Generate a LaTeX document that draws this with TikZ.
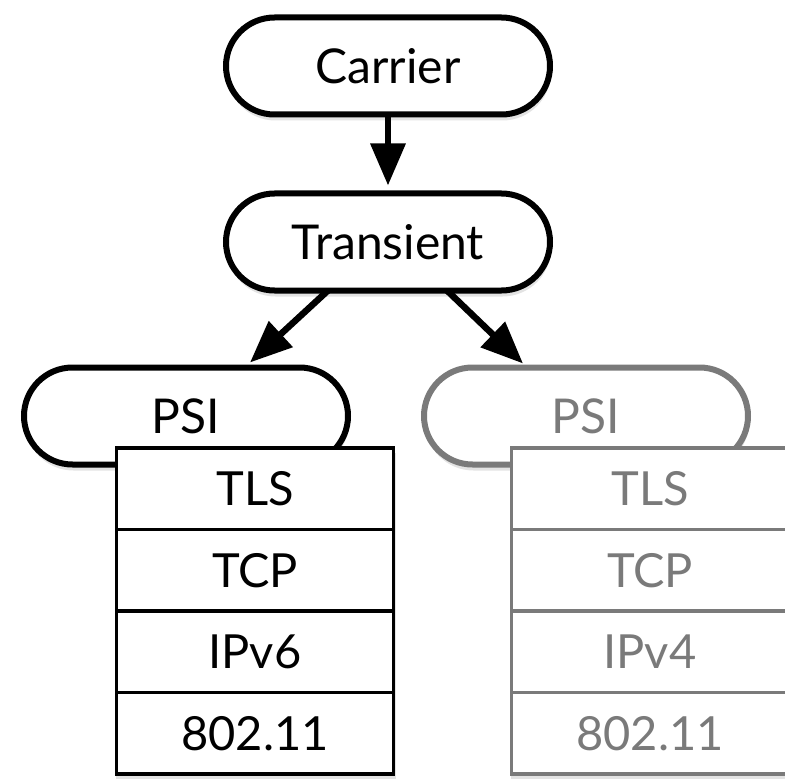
\documentclass[tikz,border=0pt]{standalone}
\usepackage{fontspec}
\setmainfont{Lato}
\usetikzlibrary{shapes.misc,shadows,arrows.meta,calc}
\definecolor{dimgray}{RGB}{122,122,122}
\tikzset{
  pill/.style={rounded rectangle, draw=black, line width=6pt, fill=white,
    minimum width=324pt, minimum height=97pt, inner sep=0pt, outer sep=0pt,
    font=\fontsize{48}{48}\selectfont,
    drop shadow={opacity=0.22, shadow xshift=1pt, shadow yshift=-6pt}},
  stackbg/.style={rectangle, fill=white, minimum width=280pt, minimum height=326pt,
    inner sep=0pt, outer sep=0pt,
    drop shadow={opacity=0.22, shadow xshift=1pt, shadow yshift=-6pt}},
  layer/.style={rectangle, draw=black, line width=3.5pt, fill=white,
    minimum width=277pt, minimum height=81.5pt, inner sep=0pt, outer sep=0pt,
    font=\fontsize{47}{47}\selectfont},
  dim/.style={draw=dimgray, text=dimgray},
  conn/.style={line width=6.5pt, -{Triangle[length=42pt,width=34pt]}}
}
\begin{document}
\begin{tikzpicture}[x=1pt,y=-1pt]
\useasboundingbox (0,0) rectangle (785,781);
\node[pill] (C) at (388,66) {Carrier};
\node[pill] (T) at (388,242) {Transient};
\node[pill] (P1) at (186,416) {PSI};
\node[pill,dim] (P2) at (586,416) {PSI};
% left stack
\node[stackbg] (S1) at (255,610) {};
\node[layer] (L1a) at (255,488.75) {TLS};
\node[layer] (L1b) at (255,570.25) {TCP};
\node[layer] (L1c) at (255,651.75) {IPv6};
\node[layer] (L1d) at (255,733.25) {802.11};
% right stack
\node[stackbg] (S2) at (650,610) {};
\node[layer,dim] (L2a) at (650,488.75) {TLS};
\node[layer,dim] (L2b) at (650,570.25) {TCP};
\node[layer,dim] (L2c) at (650,651.75) {IPv4};
\node[layer,dim] (L2d) at (650,733.25) {802.11};
% connectors
\draw[conn] (C.south) -- ($(T.north)+(0,-8)$);
\coordinate (t1) at ($(T.south)+(-60,0)$);
\coordinate (t2) at ($(T.south)+(59,0)$);
\coordinate (h1) at ($(P1.north)+(64,-5)$);
\coordinate (h2) at ($(P2.north)+(-63,-4)$);
\draw[conn] (t1) -- (h1);
\draw[conn] (t2) -- (h2);
\end{tikzpicture}
\end{document}
